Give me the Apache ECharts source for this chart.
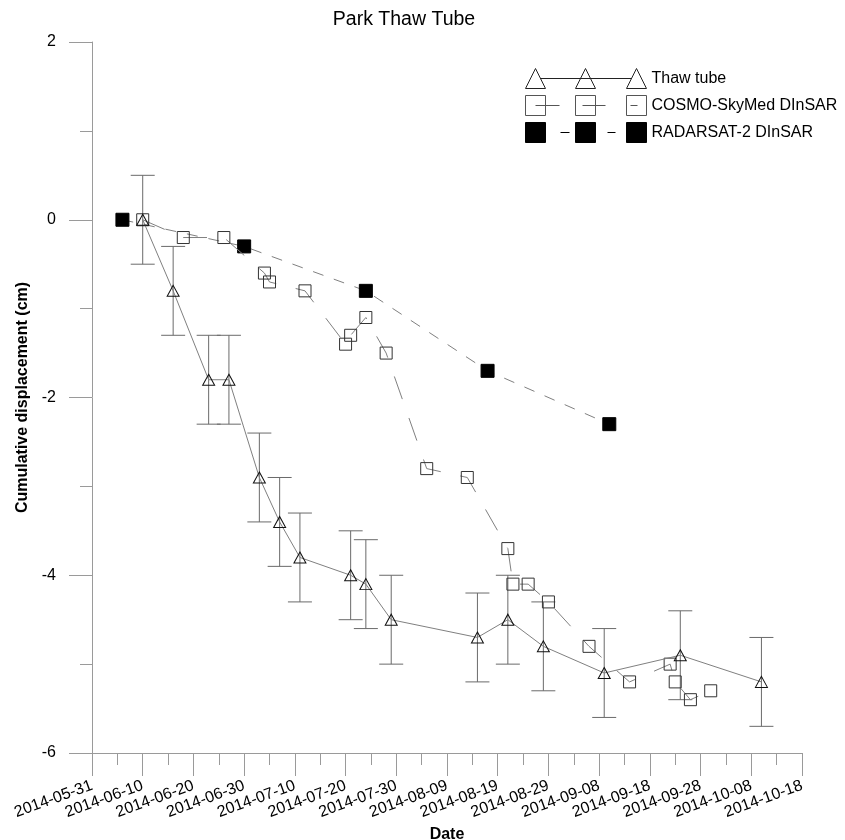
<!DOCTYPE html>
<html>
<head>
<meta charset="utf-8">
<script src="https://cdn.jsdelivr.net/npm/echarts@6/dist/echarts.min.js"></script>
<style>html,body{margin:0;padding:0;background:#fff}#c{width:845px;height:840px}</style>
</head>
<body>
<div id="c"></div>
<script>
// ---- data ----
const axisStart = '2014-05-31';
const axisEnd = '2014-10-18';
const tickDays = 10;

const thawDates = ['2014-06-10','2014-06-16','2014-06-23','2014-06-27','2014-07-03','2014-07-07','2014-07-11','2014-07-21','2014-07-24','2014-07-29','2014-08-15','2014-08-21','2014-08-28','2014-09-09','2014-09-24','2014-10-10'];
const thawValues = [0, -0.8, -1.8, -1.8, -2.9, -3.4, -3.8, -4.0, -4.1, -4.5, -4.7, -4.5, -4.8, -5.1, -4.9, -5.2];
const thawErrors = [0.5, 0.5, 0.5, 0.5, 0.5, 0.5, 0.5, 0.5, 0.5, 0.5, 0.5, 0.5, 0.5, 0.5, 0.5, 0.5];

const cosmoDates = ['2014-06-10','2014-06-18','2014-06-26','2014-07-04','2014-07-05','2014-07-12','2014-07-20','2014-07-21','2014-07-24','2014-07-28','2014-08-05','2014-08-13','2014-08-21','2014-08-22','2014-08-25','2014-08-29','2014-09-06','2014-09-14','2014-09-22','2014-09-23','2014-09-26','2014-09-30'];
const cosmoValues = [0, -0.2, -0.2, -0.6, -0.7, -0.8, -1.4, -1.3, -1.1, -1.5, -2.8, -2.9, -3.7, -4.1, -4.1, -4.3, -4.8, -5.2, -5.0, -5.2, -5.4, -5.3];

const radarDates = ['2014-06-06','2014-06-30','2014-07-24','2014-08-17','2014-09-10'];
const radarValues = [0, -0.3, -0.8, -1.7, -2.3];

const seriesNames = ['Thaw tube', 'COSMO-SkyMed DInSAR', 'RADARSAT-2 DInSAR'];

// ---- helpers ----
function utc(s){ const p = s.split('-').map(Number); return Date.UTC(p[0], p[1]-1, p[2]); }
const DAY = 86400000;
const t0 = utc(axisStart);
function dayOffset(s){ return Math.round((utc(s) - t0) / DAY); }
function dayLabel(n){ return new Date(t0 + n * DAY).toISOString().slice(0, 10); }

const FONT = 'Liberation Sans, Arial, sans-serif';
const axisGray = '#9a9a9a';
const lineGray = '#808080';

const chart = echarts.init(document.getElementById('c'), null, {renderer: 'canvas'});

const option = {
  animation: false,
  backgroundColor: '#fff',
  textStyle: {fontFamily: FONT},
  title: {
    text: 'Park Thaw Tube', left: 399, top: 5, textAlign: 'center',
    textStyle: {fontSize: 19.5, fontWeight: 'normal', color: '#000', fontFamily: FONT}
  },
  legend: {
    orient: 'vertical', left: 525, top: 68, padding: 0,
    itemWidth: 121, itemHeight: 20, itemGap: 6,
    selectedMode: false,
    textStyle: {fontSize: 16, color: '#000', fontFamily: FONT},
    data: [
      {name: seriesNames[0],
       icon: 'path://M0 20L10 0L20 20Z M50 20L60 0L70 20Z M101 20L111 0L121 20Z M15 10L106 10',
       itemStyle: {color: 'rgba(0,0,0,0)', borderColor: '#222', borderWidth: 1}},
      {name: seriesNames[1],
       icon: 'path://M0 0H20V20H0Z M50 0H70V20H50Z M101 0H121V20H101Z M10 10H34 M57 10H80 M105 10H112',
       itemStyle: {color: 'rgba(0,0,0,0)', borderColor: '#555', borderWidth: 1}},
      {name: seriesNames[2],
       icon: 'path://M0 0H20V20H0Z M50 0H70V20H50Z M101 0H121V20H101Z M35 10H44 M82 10H90',
       itemStyle: {color: '#000', borderColor: '#000', borderWidth: 1}}
    ]
  },
  grid: {left: 92, right: 43, top: 42, bottom: 87, containLabel: false, outerBoundsMode: 'none'},
  xAxis: {
    type: 'value', min: 0, max: dayOffset(axisEnd), interval: tickDays,
    name: 'Date', nameLocation: 'middle', nameGap: 71,
    nameTextStyle: {fontSize: 16, fontWeight: 'bold', color: '#000', fontFamily: FONT},
    axisLine: {show: true, onZero: false, lineStyle: {color: axisGray, width: 1}},
    axisTick: {show: true, length: 23, lineStyle: {color: axisGray}},
    minorTick: {show: true, splitNumber: 2, length: 12, lineStyle: {color: axisGray}},
    splitLine: {show: false},
    axisLabel: {rotate: 20, margin: 32, fontSize: 16, color: '#000', fontFamily: FONT,
      showMinLabel: true, showMaxLabel: true, hideOverlap: false,
      formatter: v => dayLabel(v)}
  },
  yAxis: {
    type: 'value', min: -6, max: 2, interval: 2,
    name: 'Cumulative displacement (cm)', nameLocation: 'middle', nameGap: 55,
    nameTextStyle: {fontSize: 16, fontWeight: 'bold', color: '#000', fontFamily: FONT},
    axisLine: {show: true, onZero: false, lineStyle: {color: axisGray, width: 1}},
    axisTick: {show: true, length: 23, lineStyle: {color: axisGray}},
    minorTick: {show: true, splitNumber: 2, length: 12, lineStyle: {color: axisGray}},
    splitLine: {show: false},
    axisLabel: {margin: 36, fontSize: 16, color: '#000', fontFamily: FONT}
  },
  series: [
    {
      name: 'errorbars', type: 'custom', silent: true, z: 1,
      data: thawDates.map((d, i) => [dayOffset(d), thawValues[i] - thawErrors[i], thawValues[i] + thawErrors[i]]),
      encode: {x: 0, y: [1, 2]},
      renderItem: function (params, api) {
        const x = api.value(0);
        const lo = api.coord([x, api.value(1)]);
        const hi = api.coord([x, api.value(2)]);
        const w = 12;
        const st = {stroke: '#6a6a6a', lineWidth: 1, fill: null};
        return {type: 'group', children: [
          {type: 'line', shape: {x1: lo[0], y1: lo[1], x2: hi[0], y2: hi[1]}, style: st},
          {type: 'line', shape: {x1: lo[0] - w, y1: lo[1], x2: lo[0] + w, y2: lo[1]}, style: st},
          {type: 'line', shape: {x1: hi[0] - w, y1: hi[1], x2: hi[0] + w, y2: hi[1]}, style: st}
        ]};
      }
    },
    {
      name: seriesNames[2], type: 'line', z: 2,
      data: radarDates.map((d, i) => [dayOffset(d), radarValues[i]]),
      symbol: 'rect', symbolSize: 13, showAllSymbol: true,
      itemStyle: {color: '#000', borderColor: '#000', borderWidth: 1},
      lineStyle: {color: lineGray, width: 1, type: [11, 11]},
      emphasis: {disabled: true}
    },
    {
      name: seriesNames[1], type: 'line', z: 3,
      data: cosmoDates.map((d, i) => [dayOffset(d), cosmoValues[i]]),
      symbol: 'rect', symbolSize: 12, showAllSymbol: true,
      itemStyle: {color: 'rgba(0,0,0,0)', borderColor: '#333', borderWidth: 1},
      lineStyle: {color: lineGray, width: 1, type: [24, 20]},
      emphasis: {disabled: true}
    },
    {
      name: seriesNames[0], type: 'line', z: 4,
      data: thawDates.map((d, i) => [dayOffset(d), thawValues[i]]),
      symbol: 'triangle', symbolSize: [12, 11], showAllSymbol: true,
      itemStyle: {color: 'rgba(0,0,0,0)', borderColor: '#111', borderWidth: 1},
      lineStyle: {color: lineGray, width: 1, type: 'solid'},
      emphasis: {disabled: true}
    }
  ]
};
chart.setOption(option);
</script>
</body>
</html>
